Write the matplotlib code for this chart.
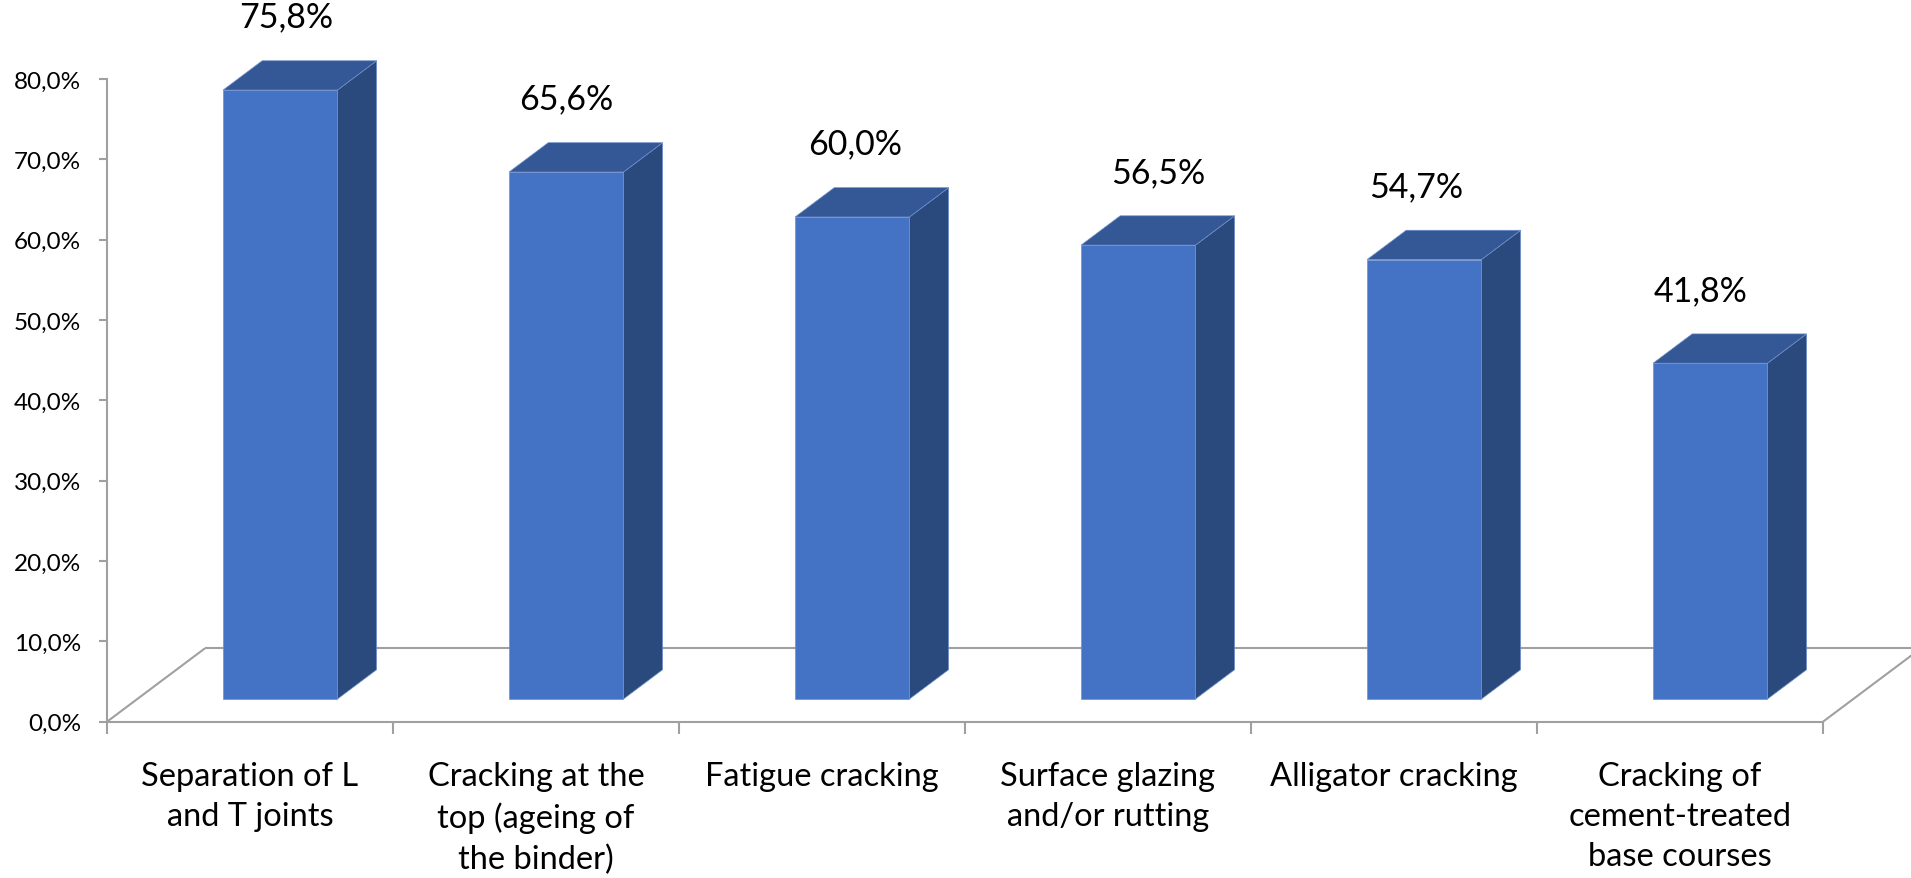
import matplotlib
matplotlib.use("Agg")
import matplotlib.pyplot as plt
from matplotlib.patches import Polygon
from matplotlib.ticker import FuncFormatter

plt.rcParams['font.family'] = ['Lato', 'DejaVu Sans']

# Data
categories = [
    "Separation of L\nand T joints",
    "Cracking at the\ntop (ageing of\nthe binder)",
    "Fatigue cracking",
    "Surface glazing\nand/or rutting",
    "Alligator cracking",
    "Cracking of\ncement-treated\nbase courses",
]
values = [75.8, 65.6, 60.0, 56.5, 54.7, 41.8]
y_ticks = [0, 10, 20, 30, 40, 50, 60, 70, 80]

# Styling
W, H, DPI = 19.11, 8.79, 100
FRONT = "#4472C4"
TOP = "#345795"
SIDE = "#2A497D"
GRID = "#A0A0A0"
BAR_W = 0.40            # bar width as fraction of a category slot
DEPTH_X = 0.3427        # floor depth, horizontal component (category units)
DEPTH_Y = 9.14          # floor depth, vertical component (percent units)
D_FRONT, D_BACK = 0.309, 0.708   # bar position inside the floor depth
label_nudge = [0.02, 0.0, 0.01, 0.07, -0.03, -0.035]


def fmt_pct(v, _=None):
    return f"{v:.1f}%".replace(".", ",")


def pt(x, y, d):
    """Point on the floor/bar at depth fraction d, in data units."""
    return (x + d * DEPTH_X, y + d * DEPTH_Y)


fig = plt.figure(figsize=(W, H), dpi=DPI)
fig.patch.set_facecolor("white")
left_px, right_px, zero_px, top_px = 107, 1823, 722.7, 80
ax = fig.add_axes([left_px / 1911, (879 - zero_px) / 879,
                   (right_px - left_px) / 1911, (zero_px - top_px) / 879])
n = len(values)
ax.set_xlim(0, n)
ax.set_ylim(0, 80)
ax.set_facecolor("none")

for s in ("top", "right"):
    ax.spines[s].set_visible(False)
for s in ("left", "bottom"):
    ax.spines[s].set_color(GRID)
    ax.spines[s].set_linewidth(1.5)

# Y axis
ax.set_yticks(y_ticks)
ax.yaxis.set_major_formatter(FuncFormatter(fmt_pct))
ax.tick_params(axis="y", length=5.8, width=1.5, color=GRID, pad=13,
               labelsize=17.5, labelcolor="black")

# X axis: boundaries as major ticks, category names on minor ticks
ax.set_xticks(range(n + 1))
ax.set_xticklabels([""] * (n + 1))
ax.tick_params(axis="x", which="major", length=8.6, width=1.5, color=GRID)
centers = [i + 0.5 for i in range(n)]
ax.set_xticks(centers, minor=True)
ax.set_xticklabels(categories, minor=True, fontsize=23.5, linespacing=1.42)
ax.tick_params(axis="x", which="minor", length=0, pad=28)

# Floor outline
floor_kw = dict(color=GRID, lw=1.5, clip_on=False, zorder=1,
                solid_capstyle="butt")
for (x0, y0, d0), (x1, y1, d1) in [
    ((0, 0, 1), (n + 0.05, 0, 1)),
    ((0, 0, 0), (0, 0, 1)),
    ((n, 0, 0), (n, 0, 1)),
]:
    a, b = pt(x0, y0, d0), pt(x1, y1, d1)
    ax.plot([a[0], b[0]], [a[1], b[1]], **floor_kw)

# Bars
edge_kw = dict(edgecolor="#6F8FCC", linewidth=0.5, clip_on=False, zorder=3)
for i, v in enumerate(values):
    xl = i + 0.5 - BAR_W / 2
    xr = i + 0.5 + BAR_W / 2
    front = [pt(xl, 0, D_FRONT), pt(xr, 0, D_FRONT),
             pt(xr, v, D_FRONT), pt(xl, v, D_FRONT)]
    side = [pt(xr, 0, D_FRONT), pt(xr, 0, D_BACK),
            pt(xr, v, D_BACK), pt(xr, v, D_FRONT)]
    top = [pt(xl, v, D_FRONT), pt(xr, v, D_FRONT),
           pt(xr, v, D_BACK), pt(xl, v, D_BACK)]
    ax.add_patch(Polygon(side, closed=True, facecolor=SIDE, **edge_kw))
    ax.add_patch(Polygon(top, closed=True, facecolor=TOP, **edge_kw))
    ax.add_patch(Polygon(front, closed=True, facecolor=FRONT, **edge_kw))

    cx, _ = pt(i + 0.5 + label_nudge[i], 0, D_FRONT)
    _, ty = pt(0, v, D_BACK)
    ax.annotate(fmt_pct(v), xy=(cx, ty), xytext=(0, 31.7),
                textcoords="offset points", ha="center", va="center",
                fontsize=24.5, color="black", annotation_clip=False)

fig.savefig("out.png", dpi=DPI, facecolor="white")
